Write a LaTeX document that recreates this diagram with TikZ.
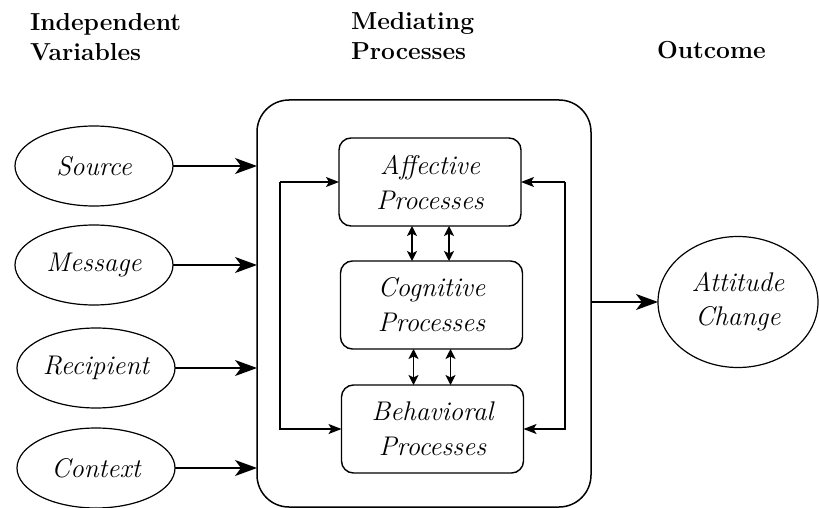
\documentclass[tikz,border=0pt]{standalone}
\usetikzlibrary{arrows.meta,shapes.geometric}
\begin{document}
\begin{tikzpicture}[x=0.5pt,y=-0.5pt,
  every node/.style={inner sep=0pt,outer sep=0pt},
  hdr/.style={font=\rmfamily\fontsize{12.3}{15}\selectfont\bfseries,anchor=base west},
  var/.style={draw,line width=0.6pt,ellipse,minimum width=79pt,minimum height=40pt,font=\rmfamily\fontsize{13.5}{17}\selectfont\itshape},
  proc/.style={draw,line width=0.7pt,rounded corners=6pt,minimum width=91pt,minimum height=44pt,align=center,font=\rmfamily\fontsize{13.5}{17.5}\selectfont\itshape},
  big/.style={line width=0.6pt,-{Stealth[length=11pt,width=8pt,inset=3pt]}},
  small/.style={line width=0.6pt,-{Stealth[length=6.5pt,width=5pt,inset=1.5pt]}},
  dbl/.style={line width=0.6pt,{Stealth[length=5pt,width=5pt,inset=1.2pt]}-{Stealth[length=5pt,width=5pt,inset=1.2pt]}}]
\useasboundingbox (0,0) rectangle (819,508);
% headers
\node[hdr] (iv1) at (30,31) {Independent};
\node[hdr] (iv2) at (30,61) {Variables};
\node[hdr] (mp1) at (351,30) {Mediating};
\node[hdr] (mp2) at (351,60) {Processes};
\node[hdr] (oc) at (657,59) {Outcome};
% outer box
\node[draw,line width=0.75pt,rounded corners=16pt,minimum width=167pt,minimum height=203.5pt] (box) at (424,303.5) {};
% process boxes
\node[proc] (aff) at (430,182) {Affective\\Processes};
\node[proc] (cog) at (431.5,305) {Cognitive\\Processes};
\node[proc] (beh) at (432.5,429) {Behavioral\\Processes};
% independent variables
\node[var] (src) at (94,166) {Source};
\node[var] (msg) at (94,265) {Message};
\node[var] (rcp) at (96,368) {Recipient};
\node[var] (ctx) at (96,468) {Context};
% outcome
\node[var,minimum width=80pt,minimum height=65.5pt,align=center,font=\rmfamily\fontsize{13.5}{17}\selectfont\itshape] (att) at (738,302) {Attitude\\Change};
% arrows in
\draw[big] (src.east) -- (src.east -| box.west);
\draw[big] (msg.east) -- (msg.east -| box.west);
\draw[big] (rcp.east) -- (rcp.east -| box.west);
\draw[big] (ctx.east) -- (ctx.east -| box.west);
% arrow out
\draw[big] (box.east |- att.west) -- (att.west);
% feedback loops
\coordinate (lt) at (280,182);
\coordinate (rt) at (565,182);
\draw[small] (lt) -- (aff.west);
\draw[small] (lt) |- (beh.west);
\draw[small] (rt) -- (aff.east);
\draw[small] (rt) |- (beh.east);
% double arrows
\draw[dbl] ([xshift=-9pt]aff.south) -- ([xshift=-9pt]aff.south |- cog.north);
\draw[dbl] ([xshift=9.5pt]aff.south) -- ([xshift=9.5pt]aff.south |- cog.north);
\draw[dbl] ([xshift=-9pt]cog.south) -- ([xshift=-9pt]cog.south |- beh.north);
\draw[dbl] ([xshift=9.5pt]cog.south) -- ([xshift=9.5pt]cog.south |- beh.north);
\end{tikzpicture}
\end{document}
